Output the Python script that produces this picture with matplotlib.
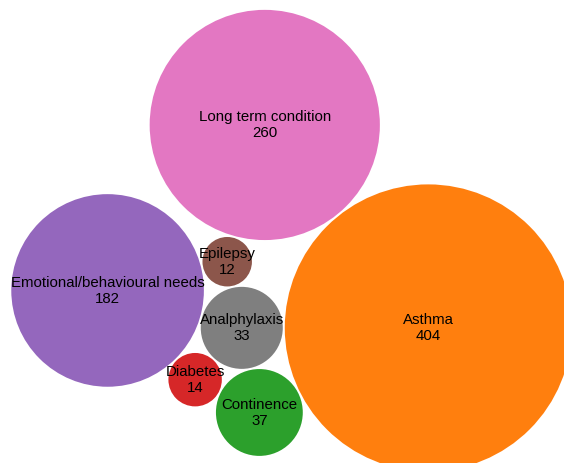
import numpy as np
import matplotlib.pyplot as plt
from matplotlib.patches import Circle

names = ["Analphylaxis", "Asthma", "Continence", "Diabetes",
         "Emotional/behavioural needs", "Epilepsy", "Long term condition"]
counts = [33, 404, 37, 14, 182, 12, 260]
colors = ["#7f7f7f", "#ff7f0e", "#2ca02c", "#d62728",
          "#9467bd", "#8c564b", "#e377c2"]

W, H = 564, 464
SCALE = 7.138          # pixels per sqrt(count)
PAD = 1.0              # half the gap between bubbles
VIEW_CX, VIEW_CY = 291.5, 241.6   # pixel where the packing's bbox centre sits


def place(a, b, c):
    # put c tangent to a and b, on the outer side of a->b
    dx, dy = b["x"] - a["x"], b["y"] - a["y"]
    dc = dx * dx + dy * dy
    da = (a["r"] + c["r"]) ** 2
    db = (b["r"] + c["r"]) ** 2
    x = 0.5 + (da - db) / (2 * dc)
    y = np.sqrt(max(0.0, da / dc - x * x))
    c["x"] = a["x"] + x * dx - y * dy
    c["y"] = a["y"] + x * dy + y * dx


def overlap(p, q):
    dr = p["r"] + q["r"]
    return 0.999 * dr * dr > (p["x"] - q["x"]) ** 2 + (p["y"] - q["y"]) ** 2


def pack(radii):
    # front-chain sibling packing (same idea as d3 v3 pack layout)
    n = len(radii)
    nodes = [{"r": r, "x": 0.0, "y": 0.0} for r in radii]
    nxt = list(range(n))
    prv = list(range(n))

    def insert(a, b):
        c = nxt[a]
        nxt[a] = b
        prv[b] = a
        nxt[b] = c
        prv[c] = b

    def splice(a, b):
        nxt[a] = b
        prv[b] = a

    nodes[0]["x"] = -radii[0]
    nodes[1]["x"] = radii[1]
    place(nodes[0], nodes[1], nodes[2])
    insert(0, 2)
    insert(2, 1)
    a, b = 0, nxt[0]
    i = 3
    while i < n:
        c = nodes[i]
        place(nodes[a], nodes[b], c)
        j = nxt[b]
        s1 = 1
        hit = False
        while j != b:
            if overlap(nodes[j], c):
                hit = True
                break
            j = nxt[j]
            s1 += 1
        if hit:
            k = prv[a]
            s2 = 1
            while k != prv[j]:
                if overlap(nodes[k], c):
                    break
                k = prv[k]
                s2 += 1
            if s1 < s2 or (s1 == s2 and nodes[b]["r"] < nodes[a]["r"]):
                b = j
                splice(a, b)
            else:
                a = k
                splice(a, b)
        else:
            insert(a, i)
            b = i
            i += 1

    xs = np.array([d["x"] for d in nodes])
    ys = np.array([d["y"] for d in nodes])
    rs = np.array(radii)
    cx = ((xs - rs).min() + (xs + rs).max()) / 2
    cy = ((ys - rs).min() + (ys + rs).max()) / 2
    return xs - cx, ys - cy


radii = SCALE * np.sqrt(np.array(counts, dtype=float))
xs, ys = pack(list(radii + PAD))

fig = plt.figure(figsize=(W / 100, H / 100), dpi=100)
ax = fig.add_axes([0, 0, 1, 1])
ax.set_xlim(-VIEW_CX, W - VIEW_CX)
ax.set_ylim(H - VIEW_CY, -VIEW_CY)
ax.axis("off")

for x, y, r, col in zip(xs, ys, radii, colors):
    ax.add_patch(Circle((x, y), r, facecolor=col, edgecolor="none", zorder=1))

for x, y, name, v in zip(xs, ys, names, counts):
    ax.annotate(name, (x, y), xytext=(0, 3.4), textcoords="offset points",
                ha="center", va="baseline", fontsize=10.8,
                family="Liberation Sans", color="black", zorder=3)
    ax.annotate(str(v), (x, y), xytext=(0, -8.3), textcoords="offset points",
                ha="center", va="baseline", fontsize=10.8,
                family="Liberation Sans", color="black", zorder=3)

fig.savefig("out.png", dpi=100)
